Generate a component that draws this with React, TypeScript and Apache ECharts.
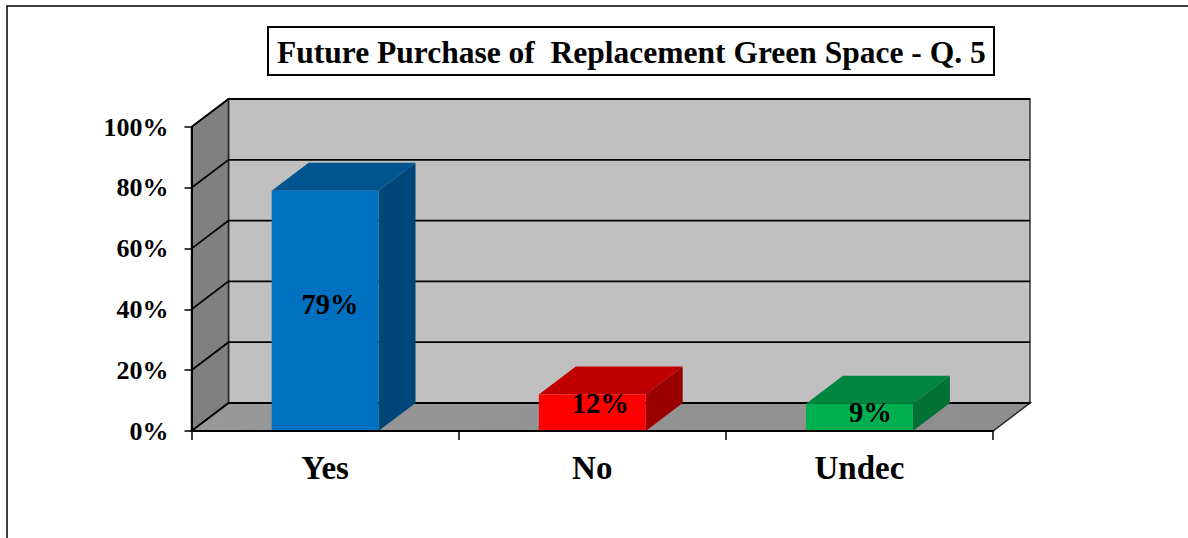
import React, { useEffect, useRef } from "react";
import * as echarts from "echarts";

const categories = ["Yes", "No", "Undec"];
const values = [79, 12, 9];
const tickValues = [0, 20, 40, 60, 80, 100];
const titleText = "Future Purchase of  Replacement Green Space - Q. 5";

const frontColors = ["#0070C0", "#FF0000", "#00B050"];
const topColors = ["#005591", "#C00000", "#008540"];
const sideColors = ["#004779", "#9B0000", "#007035"];
const labelNudgeX = [5, 8, 11];
const labelNudgeY = [-6, -9, -5];

const DX = 37;
const DY = -28;
const FONT = '"Liberation Serif", "Times New Roman", serif';

function poly(points: number[][], fill: any, stroke?: string, lineWidth = 0) {
  return { type: "polygon", shape: { points }, style: { fill, stroke: stroke ?? "none", lineWidth } };
}

export default function App() {
  const ref = useRef<HTMLDivElement>(null);
  useEffect(() => {
    const chart = echarts.init(ref.current!, null, { renderer: "svg" });
    chart.setOption({
      animation: false,
      backgroundColor: "#ffffff",
      title: {
        text: titleText,
        left: 268,
        top: 29,
        padding: [10, 9, 7, 9],
        borderColor: "#000",
        borderWidth: 2,
        backgroundColor: "#fff",
        textStyle: { fontFamily: FONT, fontWeight: "bold", fontSize: 31.5, color: "#000", lineHeight: 27 },
      },
      grid: { left: 191.5, right: 195, top: 127, bottom: 107 },
      xAxis: {
        type: "category",
        data: categories,
        z: 10,
        axisLine: { lineStyle: { color: "#000", width: 2 } },
        axisTick: { show: true, alignWithLabel: false, length: 9, lineStyle: { color: "#000", width: 1.5 } },
        axisLabel: { fontFamily: FONT, fontWeight: "bold", fontSize: 33, color: "#000", margin: 20 },
      },
      yAxis: {
        type: "value",
        min: 0,
        max: 100,
        interval: 20,
        z: 10,
        splitLine: { show: false },
        axisLine: { show: true, lineStyle: { color: "#000", width: 2 } },
        axisTick: { show: true, length: 7, lineStyle: { color: "#000", width: 1.5 } },
        axisLabel: { formatter: "{value}%", fontFamily: FONT, fontWeight: "bold", fontSize: 26, color: "#000", margin: 23 },
      },
      graphic: [
        {
          type: "polyline",
          z: 0,
          shape: { points: [[7, 538], [7, 6], [1188, 6]] },
          style: { stroke: "#000", lineWidth: 1.5, fill: "none" },
        },
      ],
      series: [
        {
          type: "custom",
          z: 1,
          clip: false,
          silent: true,
          data: [[0, 0]],
          renderItem: (params: any, api: any) => {
            const cs = params.coordSys;
            const l = cs.x, r = cs.x + cs.width, t = cs.y, b = cs.y + cs.height;
            return {
              type: "group",
              children: [
                poly([[l + DX, t + DY], [r + DX, t + DY], [r + DX, b + DY], [l + DX, b + DY]], "#C0C0C0", "#333", 1.5),
                poly([[l, t], [l + DX, t + DY], [l + DX, b + DY], [l, b]], "#808080", "#222", 1.5),
                poly([[l, b], [l + DX, b + DY], [r + DX, b + DY], [r, b]],
                  new echarts.graphic.LinearGradient(0, 0, 1, 0, [
                    { offset: 0, color: "#989898" },
                    { offset: 1, color: "#8E8E8E" },
                  ]), "#222", 1.5),
              ],
            };
          },
        },
        {
          type: "custom",
          z: 2,
          clip: false,
          silent: true,
          data: tickValues.map((v) => [0, v]),
          renderItem: (params: any, api: any) => {
            const cs = params.coordSys;
            const y = api.coord([0, api.value(1)])[1];
            return {
              type: "polyline",
              shape: { points: [[cs.x, y], [cs.x + DX, y + DY], [cs.x + cs.width + DX, y + DY]] },
              style: { stroke: "#000", lineWidth: 1.8, fill: "none" },
            };
          },
        },
        {
          type: "custom",
          z: 3,
          clip: false,
          silent: true,
          data: values.map((v, i) => [i, v]),
          renderItem: (params: any, api: any) => {
            const i = params.dataIndex;
            const v = api.value(1);
            const [cx, top] = api.coord([i, v]);
            const bottom = api.coord([i, 0])[1];
            const w = api.size([1, 0])[0] * 0.4;
            const l = cx - w / 2, r = cx + w / 2;
            return {
              type: "group",
              children: [
                poly([[l, top], [l + DX, top + DY], [r + DX, top + DY], [r, top]], topColors[i]),
                poly([[r, top], [r + DX, top + DY], [r + DX, bottom + DY], [r, bottom]], sideColors[i]),
                poly([[l, top], [r, top], [r, bottom], [l, bottom]], frontColors[i]),
                {
                  type: "text",
                  style: {
                    text: v + "%",
                    x: cx + labelNudgeX[i],
                    y: (top + bottom) / 2 + labelNudgeY[i],
                    align: "center",
                    verticalAlign: "middle",
                    font: `bold 28.5px ${FONT}`,
                    fill: "#000",
                  },
                },
              ],
            };
          },
        },
      ],
    });
    return () => chart.dispose();
  }, []);
  return <div ref={ref} style={{ position: "fixed", left: 0, top: 0, width: 1188, height: 538 }} />;
}
